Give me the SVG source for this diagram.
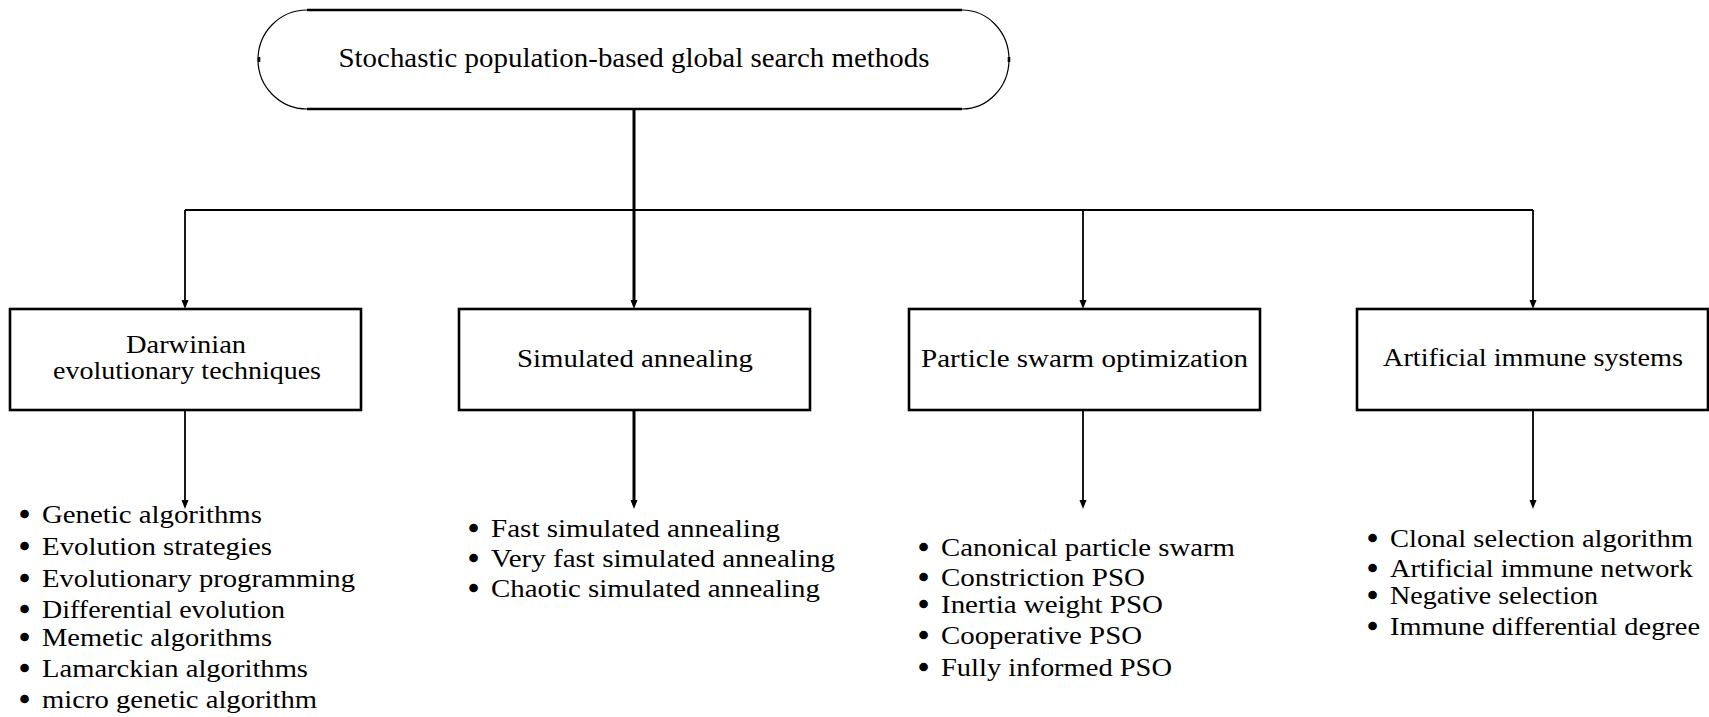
<svg xmlns="http://www.w3.org/2000/svg" width="1709" height="717" viewBox="0 0 1709 717">
  <style>
    text { font-family: 'Liberation Serif', 'DejaVu Serif', serif; fill: #000; }
    .title { font-size: 27px; }
    .label { font-size: 26px; }
    .item { font-size: 26px; }
    .bul { stroke: #000; stroke-width: 2.4; stroke-linejoin: round; }
    .box { fill: #fff; stroke: #000; stroke-width: 2.6; }
    .edge { fill: none; stroke: #000; stroke-width: 1.8; }
    .trunk { fill: none; stroke: #000; stroke-width: 3; }
    .rim { fill: none; stroke: #000; stroke-width: 2.6; }
    .cap { fill: none; stroke: #000; stroke-width: 1.2; }
  </style>
  <rect width="1709" height="717" fill="#fff"/>

  <!-- connectors -->
  <g id="connectors">
    <path class="trunk" d="M634,110 V300"/>
    <path class="edge" d="M185,210 H1533"/>
    <path class="edge" d="M185,210 V300"/>
    <path class="edge" d="M1083,210 V300"/>
    <path class="edge" d="M1533,210 V300"/>
    <path class="edge" d="M185,410 V500"/>
    <path class="trunk" d="M634,410 V500"/>
    <path class="edge" d="M1083,410 V500"/>
    <path class="edge" d="M1533,410 V500"/>
    <!-- arrowheads -->
    <g fill="#000">
      <path d="M181.5,300 L188.5,300 L185,309 Z"/>
      <path d="M630.5,300 L637.5,300 L634,309 Z"/>
      <path d="M1079.5,300 L1086.5,300 L1083,309 Z"/>
      <path d="M1529.5,300 L1536.5,300 L1533,309 Z"/>
      <path d="M181.5,500 L188.5,500 L185,509 Z"/>
      <path d="M630.5,500 L637.5,500 L634,509 Z"/>
      <path d="M1079.5,500 L1086.5,500 L1083,509 Z"/>
      <path d="M1529.5,500 L1536.5,500 L1533,509 Z"/>
    </g>
  </g>

  <!-- root node: rounded terminal -->
  <g id="root">
    <path class="cap" d="M307,10 A49,49.5 0 0 0 307,109"/>
    <path class="cap" d="M962,10 A47,49.5 0 0 1 962,109"/>
    <line class="rim" x1="307" y1="10" x2="962" y2="10"/>
    <line class="rim" x1="307" y1="109" x2="962" y2="109"/>
    <line class="rim" x1="259" y1="57" x2="259" y2="62"/>
    <line class="rim" x1="1009" y1="57" x2="1009" y2="62"/>
    <text class="title" x="634" y="67" text-anchor="middle" textLength="591" lengthAdjust="spacingAndGlyphs">Stochastic population-based global search methods</text>
  </g>

  <!-- category boxes -->
  <g id="darwinian">
    <rect class="box" x="10" y="309" width="351" height="101"/>
    <text class="label" x="186" y="353" text-anchor="middle" textLength="120" lengthAdjust="spacingAndGlyphs">Darwinian</text>
    <text class="label" x="187" y="379" text-anchor="middle" textLength="268" lengthAdjust="spacingAndGlyphs">evolutionary techniques</text>
  </g>
  <g id="annealing">
    <rect class="box" x="459" y="309" width="351" height="101"/>
    <text class="label" x="635" y="367" text-anchor="middle" textLength="236" lengthAdjust="spacingAndGlyphs">Simulated annealing</text>
  </g>
  <g id="pso">
    <rect class="box" x="909" y="309" width="351" height="101"/>
    <text class="label" x="1084.5" y="367" text-anchor="middle" textLength="327" lengthAdjust="spacingAndGlyphs">Particle swarm optimization</text>
  </g>
  <g id="immune">
    <rect class="box" x="1357" y="309" width="351" height="101"/>
    <text class="label" x="1533" y="366" text-anchor="middle" textLength="300" lengthAdjust="spacingAndGlyphs">Artificial immune systems</text>
  </g>

  <!-- method lists -->
  <g id="darwinian-list" class="item">
    <text y="523"><tspan class="bul" x="20">•</tspan><tspan x="42" textLength="220" lengthAdjust="spacingAndGlyphs">Genetic algorithms</tspan></text>
    <text y="555"><tspan class="bul" x="20">•</tspan><tspan x="42" textLength="230" lengthAdjust="spacingAndGlyphs">Evolution strategies</tspan></text>
    <text y="587"><tspan class="bul" x="20">•</tspan><tspan x="42" textLength="313" lengthAdjust="spacingAndGlyphs">Evolutionary programming</tspan></text>
    <text y="618"><tspan class="bul" x="20">•</tspan><tspan x="42" textLength="243" lengthAdjust="spacingAndGlyphs">Differential evolution</tspan></text>
    <text y="646"><tspan class="bul" x="20">•</tspan><tspan x="42" textLength="230" lengthAdjust="spacingAndGlyphs">Memetic algorithms</tspan></text>
    <text y="677"><tspan class="bul" x="20">•</tspan><tspan x="42" textLength="266" lengthAdjust="spacingAndGlyphs">Lamarckian algorithms</tspan></text>
    <text y="708"><tspan class="bul" x="20">•</tspan><tspan x="42" textLength="275" lengthAdjust="spacingAndGlyphs">micro genetic algorithm</tspan></text>
  </g>
  <g id="annealing-list" class="item">
    <text y="537"><tspan class="bul" x="469">•</tspan><tspan x="491" textLength="289" lengthAdjust="spacingAndGlyphs">Fast simulated annealing</tspan></text>
    <text y="567"><tspan class="bul" x="469">•</tspan><tspan x="491" textLength="344" lengthAdjust="spacingAndGlyphs">Very fast simulated annealing</tspan></text>
    <text y="597"><tspan class="bul" x="469">•</tspan><tspan x="491" textLength="329" lengthAdjust="spacingAndGlyphs">Chaotic simulated annealing</tspan></text>
  </g>
  <g id="pso-list" class="item">
    <text y="556"><tspan class="bul" x="919">•</tspan><tspan x="941" textLength="294" lengthAdjust="spacingAndGlyphs">Canonical particle swarm</tspan></text>
    <text y="586"><tspan class="bul" x="919">•</tspan><tspan x="941" textLength="204" lengthAdjust="spacingAndGlyphs">Constriction PSO</tspan></text>
    <text y="613"><tspan class="bul" x="919">•</tspan><tspan x="941" textLength="222" lengthAdjust="spacingAndGlyphs">Inertia weight PSO</tspan></text>
    <text y="644"><tspan class="bul" x="919">•</tspan><tspan x="941" textLength="201" lengthAdjust="spacingAndGlyphs">Cooperative PSO</tspan></text>
    <text y="676"><tspan class="bul" x="919">•</tspan><tspan x="941" textLength="231" lengthAdjust="spacingAndGlyphs">Fully informed PSO</tspan></text>
  </g>
  <g id="immune-list" class="item">
    <text y="547"><tspan class="bul" x="1368">•</tspan><tspan x="1390" textLength="303" lengthAdjust="spacingAndGlyphs">Clonal selection algorithm</tspan></text>
    <text y="577"><tspan class="bul" x="1368">•</tspan><tspan x="1390" textLength="303" lengthAdjust="spacingAndGlyphs">Artificial immune network</tspan></text>
    <text y="604"><tspan class="bul" x="1368">•</tspan><tspan x="1390" textLength="208" lengthAdjust="spacingAndGlyphs">Negative selection</tspan></text>
    <text y="635"><tspan class="bul" x="1368">•</tspan><tspan x="1390" textLength="310" lengthAdjust="spacingAndGlyphs">Immune differential degree</tspan></text>
  </g>
</svg>
